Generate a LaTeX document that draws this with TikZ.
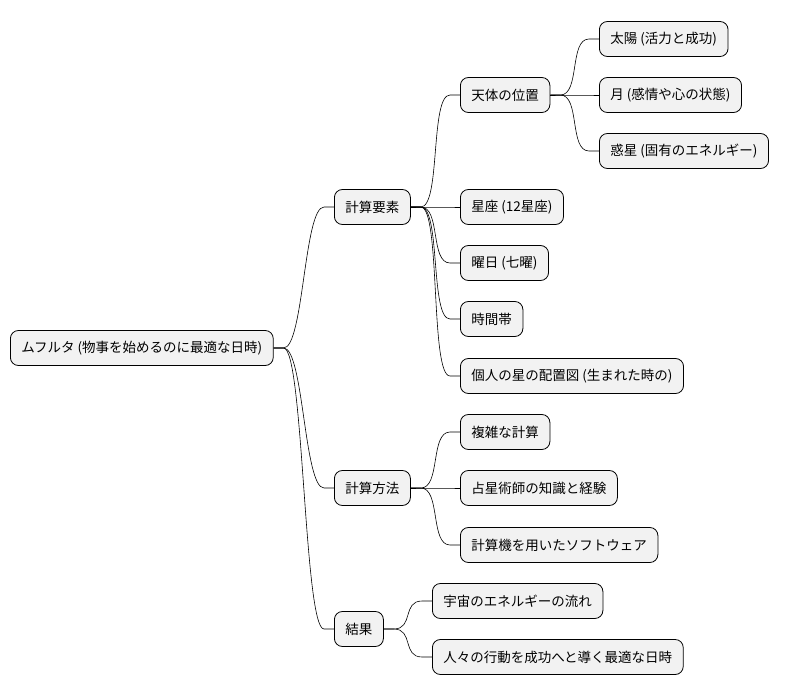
\documentclass[tikz,border=0pt]{standalone}
\usepackage{fontspec}
\setmainfont{Noto Sans CJK JP}
\begin{document}
\begin{tikzpicture}[x=1pt,y=-1pt,
    topic/.style={draw, rounded corners=8pt, fill=gray!10, line width=0.8pt,
      minimum height=35pt, inner xsep=11pt, anchor=west, font=\fontsize{13.5}{15}\selectfont},
    branch/.style={line width=0.6pt}]
  \useasboundingbox (0,0) rectangle (785,696);
  % Root and first level
  \node [topic] (root) at (10,348) {ムフルタ (物事を始めるのに最適な日時)};
  \node [topic] (calc) at (334,207) {計算要素};
  \node [topic] (meth) at (334,488) {計算方法};
  \node [topic] (res) at (334,629) {結果};
  % Elements of the calculation
  \node [topic] (body) at (460,95) {天体の位置};
  \node [topic] (sign) at (460,207) {星座 (12星座)};
  \node [topic] (day) at (460,263) {曜日 (七曜)};
  \node [topic] (hour) at (460,319) {時間帯};
  \node [topic] (chart) at (460,376) {個人の星の配置図 (生まれた時の)};
  \node [topic] (sun) at (599,39) {太陽 (活力と成功)};
  \node [topic] (moon) at (599,95) {月 (感情や心の状態)};
  \node [topic] (planet) at (599,151) {惑星 (固有のエネルギー)};
  % Methods
  \node [topic] (hard) at (460,432) {複雑な計算};
  \node [topic] (astro) at (460,488) {占星術師の知識と経験};
  \node [topic] (soft) at (460,545) {計算機を用いたソフトウェア};
  % Results
  \node [topic] (flow) at (432,601) {宇宙のエネルギーの流れ};
  \node [topic] (best) at (432,657) {人々の行動を成功へと導く最適な日時};
  % Curved branches from parent to child
  \foreach \p/\c in {root/calc, root/meth, root/res,
      calc/body, calc/sign, calc/day, calc/hour, calc/chart,
      body/sun, body/moon, body/planet,
      meth/hard, meth/astro, meth/soft,
      res/flow, res/best} {
    \draw [branch] (\p.east) -- ++(10,0) .. controls +(20,0) and +(-20,0) .. ([xshift=-10pt]\c.west) -- (\c.west);
  }
\end{tikzpicture}
\end{document}
